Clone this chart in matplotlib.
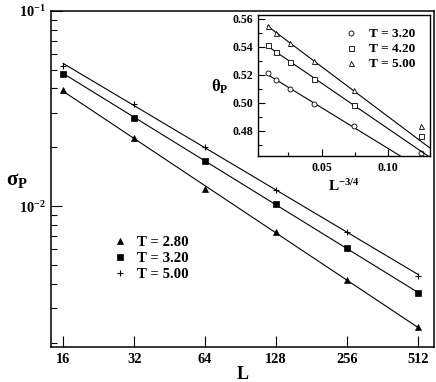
import numpy as np
import matplotlib
matplotlib.use("Agg")
import matplotlib.pyplot as plt
from matplotlib.ticker import FixedLocator, NullLocator, FuncFormatter, LogLocator, NullFormatter, MultipleLocator, FormatStrFormatter

plt.rcParams['font.family'] = ['Liberation Serif', 'DejaVu Serif']
plt.rcParams['font.weight'] = 'bold'
plt.rcParams['mathtext.fontset'] = 'custom'
plt.rcParams['mathtext.rm'] = 'Liberation Serif'
plt.rcParams['mathtext.it'] = 'Liberation Serif:italic'
plt.rcParams['mathtext.bf'] = 'Liberation Serif:bold'

# ---- data ----
L = [16, 32, 64, 128, 256, 512]
sigma_T280 = [0.0392, 0.0222, 0.0123, 0.00734, 0.00419, 0.0024]
sigma_T320 = [0.0475, 0.0284, 0.0171, 0.0102, 0.00608, 0.00358]
sigma_T500 = [0.0524, 0.0333, 0.0201, 0.0121, 0.00737, 0.00441]

theta_T320 = [0.4642, 0.4831, 0.4991, 0.5096, 0.5165, 0.5211]
theta_T420 = [0.4760, 0.4987, 0.5174, 0.5292, 0.5363, 0.5410]
theta_T500 = [0.4836, 0.5089, 0.5296, 0.5427, 0.5502, 0.5552]

main_labels = ['T = 2.80', 'T = 3.20', 'T = 5.00']
inset_labels = ['T = 3.20', 'T = 4.20', 'T = 5.00']
x_ticks = [16, 32, 64, 128, 256, 512]

fig = plt.figure(figsize=(4.36, 3.82), dpi=100)
ax = fig.add_axes([0.1163, 0.0916, 0.9954 - 0.1163, 0.972 - 0.0916])

Larr = np.array(L, dtype=float)
series = [(sigma_T280, '^', 5.0), (sigma_T320, 's', 4.6), (sigma_T500, '+', 5.0)]
handles = []
for (vals, mk, ms), lab in zip(series, main_labels):
    v = np.array(vals)
    p = np.polyfit(np.log(Larr), np.log(v), 1)
    ax.plot(Larr, np.exp(np.polyval(p, np.log(Larr))), '-', color='black', lw=0.8)
    h, = ax.plot(Larr, v, linestyle='none', marker=mk, ms=ms, color='black',
                 mew=0.8 if mk == '+' else 0.5, label=lab)
    handles.append(h)

ax.set_xscale('log', base=2)
ax.set_yscale('log')
ax.set_xlim(14.16, 598)
ax.set_ylim(0.0019, 0.1)
ax.xaxis.set_major_locator(FixedLocator(x_ticks))
ax.xaxis.set_minor_locator(NullLocator())
ax.xaxis.set_major_formatter(FuncFormatter(lambda x, p: '%d' % int(round(x))))
ax.yaxis.set_major_locator(LogLocator(base=10))
ax.yaxis.set_minor_locator(LogLocator(base=10, subs=np.arange(2, 10)))
ax.yaxis.set_minor_formatter(NullFormatter())
ax.yaxis.set_major_formatter(FuncFormatter(lambda y, p: r'$\mathbf{10^{%d}}$' % int(round(np.log10(y)))))
ax.tick_params(which='both', direction='in', top=False, right=False, labelsize=10.4, width=0.8)
ax.tick_params(which='major', length=8)
ax.tick_params(which='minor', length=4)
ax.tick_params(axis='x', pad=4)
for s in ax.spines.values():
    s.set_linewidth(1.1)
ax.set_xlabel('L', fontsize=13, fontweight='bold', labelpad=0)
ax.set_ylabel(r'$\mathrm{\sigma}_{\mathbf{P}}$', fontsize=15, rotation=0, va='center', ha='center')
ax.yaxis.set_label_coords(-0.088, 0.495)

leg = ax.legend(handles=handles, loc='upper left', bbox_to_anchor=(112.6 / 436, 1 - 236 / 382),
                bbox_transform=fig.transFigure, frameon=False, fontsize=10.7,
                handlelength=1.0, handletextpad=0.63, labelspacing=0.17, numpoints=1,
                borderpad=0, borderaxespad=0)

# ---- inset ----
ax2 = fig.add_axes([258 / 436, 1 - 156 / 382, (430 - 258) / 436, (156 - 15) / 382])
xs = np.array(L, dtype=float) ** (-0.75)
ins = [(theta_T320, 'o'), (theta_T420, 's'), (theta_T500, '^')]
h2 = []
for (vals, mk), lab in zip(ins, inset_labels):
    v = np.array(vals)
    p = np.polyfit(xs[1:], v[1:], 1)
    xx = np.array([xs[-1], 0.14])
    ax2.plot(xx, np.polyval(p, xx), '-', color='black', lw=0.8)
    h, = ax2.plot(xs, v, linestyle='none', marker=mk, ms=3.6, mfc='white', mec='black',
                  mew=0.6, label=lab)
    h2.append(h)
ax2.set_xlim(0.002, 0.132)
ax2.set_ylim(0.462, 0.5628)
ax2.xaxis.set_major_locator(FixedLocator([0.05, 0.10]))
ax2.xaxis.set_minor_locator(MultipleLocator(0.025))
ax2.xaxis.set_major_formatter(FormatStrFormatter('%.2f'))
ax2.yaxis.set_major_locator(FixedLocator([0.48, 0.50, 0.52, 0.54, 0.56]))
ax2.yaxis.set_minor_locator(MultipleLocator(0.01))
ax2.yaxis.set_major_formatter(FormatStrFormatter('%.2f'))
ax2.tick_params(which='both', direction='in', top=False, right=False, labelsize=8.6, width=0.8)
ax2.tick_params(which='major', length=5)
ax2.tick_params(which='minor', length=3)
ax2.tick_params(axis='x', pad=4)
for s in ax2.spines.values():
    s.set_linewidth(1.0)
ax2.set_xlabel(r'$\mathbf{L^{-3/4}}$', fontsize=11, labelpad=3)
ax2.set_ylabel(r'$\mathrm{\theta}_{\mathbf{P}}$', fontsize=12, rotation=0, va='center', ha='center')
ax2.yaxis.set_label_coords(-0.22, 0.49)
ax2.legend(handles=h2, loc='upper left', bbox_to_anchor=(346 / 436, 1 - 28 / 382),
           bbox_transform=fig.transFigure, frameon=False, fontsize=9.6,
           handlelength=0.8, handletextpad=0.9, labelspacing=0.2, numpoints=1,
           borderpad=0, borderaxespad=0)

fig.savefig('out.png', dpi=100)
